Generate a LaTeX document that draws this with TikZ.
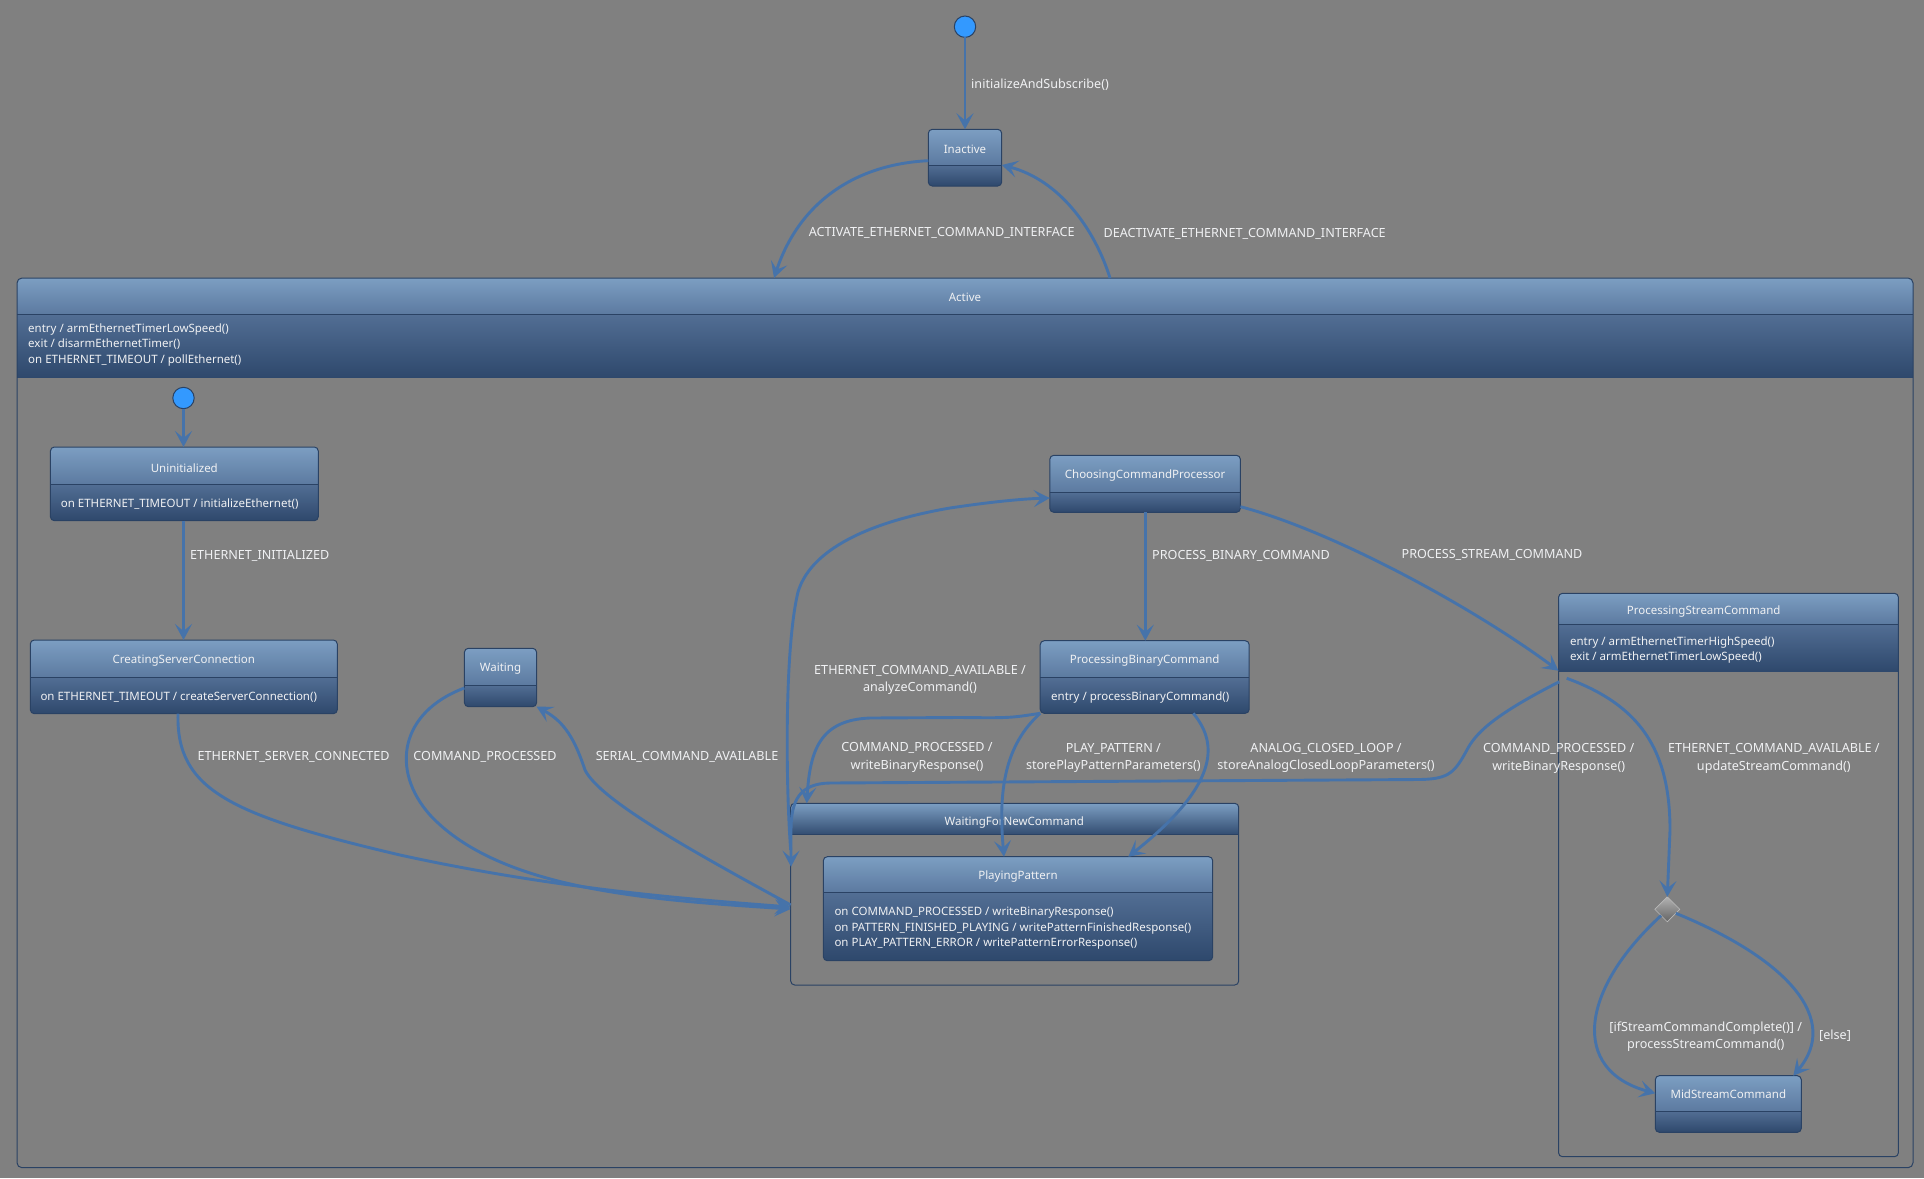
\documentclass[tikz,border=0pt]{standalone}
\usepackage{fontspec}
\setmainfont{Noto Sans}
\usetikzlibrary{arrows.meta,fit,shapes.geometric}

\definecolor{bgc}{RGB}{128,128,128}
\definecolor{hdrtop}{RGB}{124,158,194}
\definecolor{hdrbot}{RGB}{92,122,160}
\definecolor{bodytop}{RGB}{82,110,148}
\definecolor{bodybot}{RGB}{46,72,108}
\definecolor{edge}{RGB}{42,66,100}
\definecolor{wire}{RGB}{70,115,170}
\definecolor{txt}{RGB}{240,241,243}
\definecolor{initblue}{RGB}{51,153,255}
\definecolor{choicetop}{RGB}{178,178,178}
\definecolor{choicebot}{RGB}{100,100,100}

\tikzset{
  boxline/.style={draw=edge, line width=1pt, rounded corners=4pt, inner sep=0pt, outer sep=0pt},
  divider/.style={draw=edge, line width=1pt},
  conn/.style={draw=wire, line width=2.9pt, -{Stealth[length=16pt,width=17pt,inset=7pt]}},
  ttl/.style={text=txt, inner sep=0pt, font=\fontsize{11.5}{15.5}\selectfont},
  body/.style={ttl, align=left, anchor=west},
  lbl/.style={text=txt, inner sep=0pt, align=center, font=\fontsize{12.6}{17.3}\selectfont},
  initial/.style={circle, fill=initblue, draw=edge, line width=1pt, minimum size=21.4pt, inner sep=0pt, outer sep=0pt},
}

% simple state: name, x1, y1, x2, y2, y of the compartment line
\newcommand\stbox[6]{%
  \begin{scope}
    \clip[rounded corners=4pt] (#2,#3) rectangle (#4,#5);
    \shade[top color=hdrtop,bottom color=hdrbot] (#2,#3) rectangle (#4,#6);
    \shade[top color=bodytop,bottom color=bodybot] (#2,#6) rectangle (#4,#5);
  \end{scope}
  \draw[divider] (#2,#6) -- (#4,#6);
  \node[boxline, fit={(#2,#3) (#4,#5)}] (#1) {};
}

\begin{document}
\begin{tikzpicture}[x=1pt,y=-1pt]
\fill[bgc] (0,0) rectangle (1924,1178);
\useasboundingbox (0,0) rectangle (1924,1178);

% ---------- composite state Active ----------
\begin{scope}
  \clip[rounded corners=5pt] (17,278) rectangle (1913,1167.7);
  \shade[top color=hdrtop,bottom color=hdrbot] (17,278) rectangle (1913,314.3);
  \shade[top color=bodytop,bottom color=bodybot] (17,314.3) rectangle (1913,377.7);
\end{scope}
\draw[divider] (17,314.3) -- (1913,314.3);
\node[boxline, rounded corners=5pt, fit={(17,278) (1913,1167.7)}] (active) {};
\node[ttl] (active-t) at (965,297) {Active};
\node[body] (active-b) at (28,344.9) {entry / armEthernetTimerLowSpeed()\\exit / disarmEthernetTimer()\\on ETHERNET\_TIMEOUT / pollEthernet()};

% ---------- composite state WaitingForNewCommand ----------
\begin{scope}
  \clip[rounded corners=4pt] (790.7,803.3) rectangle (1238.7,985);
  \shade[top color=hdrtop,bottom color=bodybot!90!hdrbot] (790.7,803.3) rectangle (1238.7,834.3);
\end{scope}
\draw[divider] (790.7,834.3) -- (1238.7,834.3);
\node[boxline, fit={(790.7,803.3) (1238.7,985)}] (wfnc) {};
\node[ttl] (wfnc-t) at (1014.3,822) {WaitingForNewCommand};

% ---------- composite state ProcessingStreamCommand ----------
\begin{scope}
  \clip[rounded corners=4pt] (1558.5,593.3) rectangle (1898.4,1156.7);
  \shade[top color=hdrtop,bottom color=hdrbot] (1558.5,593.3) rectangle (1898.4,624.3);
  \shade[top color=bodytop,bottom color=bodybot] (1558.5,624.3) rectangle (1898.4,671.7);
\end{scope}
\draw[divider] (1558.5,624.3) -- (1898.4,624.3);
\node[boxline, fit={(1558.5,593.3) (1898.4,1156.7)}] (psc) {};
\node[ttl] (psc-t) at (1703.7,612) {ProcessingStreamCommand};
\node[body] (psc-b) at (1569.8,649.8) {entry / armEthernetTimerHighSpeed()\\exit / armEthernetTimerLowSpeed()};

% ---------- simple states ----------
\stbox{inactive}{928.3}{129.3}{1001.7}{186}{165}
\node[ttl] (inactive-t) at (965,149) {Inactive};

\stbox{uninit}{50.4}{447}{318.3}{520.7}{484.3}
\node[ttl] (uninit-t) at (184.3,468) {Uninitialized};
\node[body] (uninit-b) at (60.7,504) {on ETHERNET\_TIMEOUT / initializeEthernet()};

\stbox{creating}{30.3}{640}{337.3}{713.7}{677.3}
\node[ttl] (creating-t) at (183.8,661) {CreatingServerConnection};
\node[body] (creating-b) at (40.3,697) {on ETHERNET\_TIMEOUT / createServerConnection()};

\stbox{waiting}{464.4}{648.3}{536.6}{706.7}{685.3}
\node[ttl] (waiting-t) at (500.5,668.7) {Waiting};

\stbox{ccp}{1049.8}{455.3}{1240.4}{512.3}{492.3}
\node[ttl] (ccp-t) at (1145.1,475.3) {ChoosingCommandProcessor};

\stbox{pbc}{1040.2}{640.7}{1249.2}{713.3}{677.7}
\node[ttl] (pbc-t) at (1144.7,660.7) {ProcessingBinaryCommand};
\node[body] (pbc-b) at (1051,697) {entry / processBinaryCommand()};

\stbox{playing}{823.3}{856.7}{1212.7}{960.7}{892.3}
\node[ttl] (playing-t) at (1018,876.3) {PlayingPattern};
\node[body] (playing-b) at (834.3,928.6) {on COMMAND\_PROCESSED / writeBinaryResponse()\\on PATTERN\_FINISHED\_PLAYING / writePatternFinishedResponse()\\on PLAY\_PATTERN\_ERROR / writePatternErrorResponse()};

\stbox{midstream}{1655.3}{1075.7}{1801.3}{1132.3}{1111}
\node[ttl] (midstream-t) at (1728.3,1094.3) {MidStreamCommand};

% ---------- pseudo states ----------
\node[initial] (init0) at (965,26.7) {};
\node[initial] (init1) at (183.5,398) {};
\node[diamond, shape aspect=1, minimum width=25pt, minimum height=25pt, inner sep=0pt, outer sep=0pt,
      top color=choicetop, bottom color=choicebot, draw=white!45!gray, line width=0.6pt] (choice) at (1667.3,909.3) {};

\coordinate (psc-out1) at (1559.3,681.7);
\coordinate (psc-out2) at (1566.7,678.3);

% ---------- transitions ----------
\draw[conn] (init0.south) -- (inactive.north);
\draw[conn] (inactive.west |- 0,160.7) .. controls (858,164) and (800,200) .. (active.north -| 774,0);
\draw[conn] (active.north -| 1110,0) .. controls (1095,230) and (1060,180) .. (inactive.east |- 0,165);

\draw[conn] (init1.south) -- (init1.south |- uninit.north);
\draw[conn] (uninit.south -| 183.5,0) -- (creating.north -| 183.5,0);

\draw[conn] (creating.south -| 178,0) .. controls (176,790) and (230,815) .. (400,855)
            .. controls (560,890) and (700,900) .. (wfnc.west |- 0,907);
\draw[conn] (waiting.west |- 0,688) .. controls (400,712) and (390,770) .. (430,815)
            .. controls (500,890) and (650,900) .. (wfnc.west |- 0,909);
\draw[conn] (wfnc.west |- 0,905) .. controls (690,850) and (600,800) .. (585,770)
            .. controls (575,740) and (565,722) .. (waiting.south east);

\draw[conn] (wfnc.west |- 0,850) .. controls (786,790) and (784,650) .. (798,592)
            .. controls (812,545) and (880,520) .. (950,508)
            .. controls (990,502) and (1020,499) .. (ccp.west |- 0,498);

\draw[conn] (ccp.south -| 1145.3,0) -- (pbc.north -| 1145.3,0);
\draw[conn] (ccp.east |- 0,506.7) .. controls (1330,530) and (1470,605) .. (psc.west |- 0,670.7);

\draw[conn] (pbc.south west) .. controls (1010,718) .. (960,717.5) -- (870,718)
            .. controls (820,720) and (810,750) .. (wfnc.north -| 806.7,0);
\draw[conn] (pbc.south west) .. controls (1005,745) and (998,790) .. (playing.north -| 1004,0);
\draw[conn] (pbc.south -| 1193.3,0) .. controls (1215,740) and (1225,780) .. (playing.north -| 1128.3,0);

\draw[conn] (psc-out1) .. controls (1500,712) and (1478,730) .. (1468,748)
            .. controls (1455,772) and (1450,779) .. (1420,779.5) -- (830,783)
            .. controls (800,783.5) and (791,800) .. (791,830) -- (791,866.7);
\draw[conn] (psc-out2) .. controls (1640,705) and (1670,750) .. (1670,830) -- (choice.north);

\draw[conn] (choice.225) .. controls (1580,990) and (1570,1070) .. (midstream.west |- 0,1093.3);
\draw[conn] (choice.-25) .. controls (1790,960) and (1840,1020) .. (midstream.north -| 1793.3,0);

% ---------- transition labels ----------
\node[lbl, anchor=west] (l-init) at (971,85) {initializeAndSubscribe()};
\node[lbl] (l-act) at (941.7,233) {ACTIVATE\_ETHERNET\_COMMAND\_INTERFACE};
\node[lbl] (l-deact) at (1244.7,233.5) {DEACTIVATE\_ETHERNET\_COMMAND\_INTERFACE};
\node[lbl, anchor=west] (l-einit) at (190,555.6) {ETHERNET\_INITIALIZED};
\node[lbl] (l-esc) at (293.6,757) {ETHERNET\_SERVER\_CONNECTED};
\node[lbl] (l-cp) at (485,757) {COMMAND\_PROCESSED};
\node[lbl] (l-sca) at (687,757) {SERIAL\_COMMAND\_AVAILABLE};
\node[lbl] (l-eca) at (920,680) {ETHERNET\_COMMAND\_AVAILABLE /\\analyzeCommand()};
\node[lbl, anchor=west] (l-pbc) at (1152,556) {PROCESS\_BINARY\_COMMAND};
\node[lbl] (l-psc) at (1492,555) {PROCESS\_STREAM\_COMMAND};
\node[lbl] (l-cpb) at (917,757.3) {COMMAND\_PROCESSED /\\writeBinaryResponse()};
\node[lbl] (l-play) at (1113.3,757.7) {PLAY\_PATTERN /\\storePlayPatternParameters()};
\node[lbl] (l-acl) at (1326,757.7) {ANALOG\_CLOSED\_LOOP /\\storeAnalogClosedLoopParameters()};
\node[lbl] (l-cps) at (1558.7,758.3) {COMMAND\_PROCESSED /\\writeBinaryResponse()};
\node[lbl] (l-ecu) at (1773.8,758.3) {ETHERNET\_COMMAND\_AVAILABLE /\\updateStreamCommand()};
\node[lbl] (l-done) at (1705.7,1036.7) {[ifStreamCommandComplete()] /\\processStreamCommand()};
\node[lbl] (l-else) at (1835,1035.3) {[else]};
\end{tikzpicture}
\end{document}
